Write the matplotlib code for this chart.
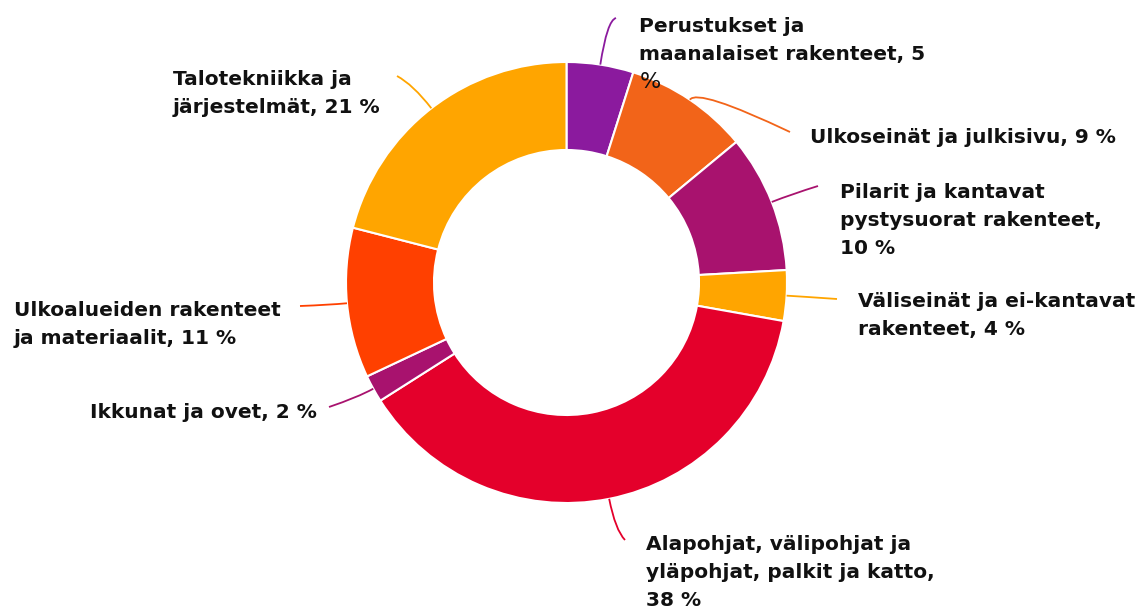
import matplotlib
matplotlib.use("Agg")
import matplotlib.pyplot as plt
import numpy as np
from matplotlib.path import Path
from matplotlib.patches import PathPatch

categories = [
    "Perustukset ja\nmaanalaiset rakenteet, 5",
    "Ulkoseinät ja julkisivu, 9 %",
    "Pilarit ja kantavat\npystysuorat rakenteet,\n10 %",
    "Väliseinät ja ei-kantavat\nrakenteet, 4 %",
    "Alapohjat, välipohjat ja\nyläpohjat, palkit ja katto,\n38 %",
    "Ikkunat ja ovet, 2 %",
    "Ulkoalueiden rakenteet\nja materiaalit, 11 %",
    "Talotekniikka ja\njärjestelmät, 21 %",
]
values = [4.9, 9.1, 10.1, 3.7, 38.2, 2.0, 11.0, 21.0]
colors = ["#8B1A9E", "#F26419", "#A8126E", "#FFA500",
          "#E4002B", "#A8126E", "#FF4000", "#FFA500"]

# layout (pixel coords, y down)
label_pos = [(639, 17), (810, 128), (840, 183), (858, 292),
             (646, 535), (90, 403), (14, 301), (173, 70)]
line_end = [(616, 18), (790, 132), (818, 186), (837, 299),
            (625, 540), (329, 407), (300, 306), (397, 76)]
ctrl_ext = [45, 14, 22, 18, 32, 18, 18, 30]

W, H = 1143, 610
fig = plt.figure(figsize=(W / 100, H / 100), dpi=100)
ax = fig.add_axes([0, 0, 1, 1])
cx, cy, R = 566.5, 282.5, 220.5
wedges, _ = ax.pie(values, colors=colors, startangle=-90, counterclock=True,
                   center=(cx, cy), radius=R,
                   wedgeprops=dict(width=88, edgecolor="white", linewidth=1.5))
ax.set_xlim(0, W)
ax.set_ylim(H, 0)
ax.set_aspect("equal")
ax.axis("off")

for i, w in enumerate(wedges):
    th = np.deg2rad((w.theta1 + w.theta2) / 2)
    d = np.array([np.cos(th), np.sin(th)])
    start = np.array([cx, cy]) + R * d
    ctrl = start + ctrl_ext[i] * d
    end = line_end[i]
    p = Path([start, ctrl, end], [Path.MOVETO, Path.CURVE3, Path.CURVE3])
    ax.add_patch(PathPatch(p, fill=False, edgecolor=colors[i], linewidth=1.3))
    x, y = label_pos[i]
    ax.text(x, y, categories[i], ha="left", va="top", fontsize=14.5,
            fontweight="bold", family="DejaVu Sans", linespacing=1.6,
            color="#111111")

# trailing "%" of the first label wrapped onto its own line
ax.text(640, 72, "%", ha="left", va="top", fontsize=16,
        family="DejaVu Sans", color="#111111")

fig.savefig("out.png", dpi=100)
